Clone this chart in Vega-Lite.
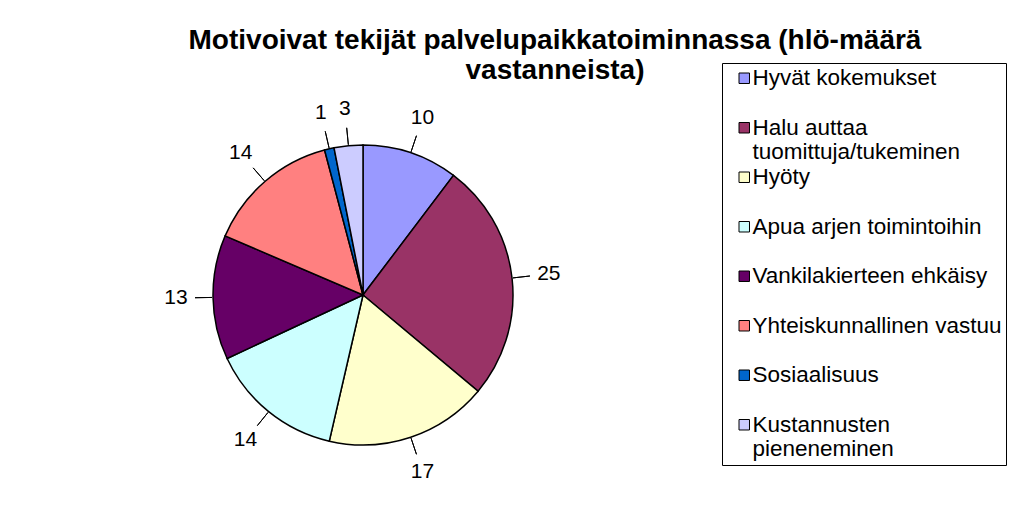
{
  "$schema": "https://vega.github.io/schema/vega-lite/v6.json",
  "width": 726,
  "height": 430,
  "autosize": {"type": "none"},
  "padding": {"left": 0, "top": 80, "right": 298, "bottom": 17},
  "background": "white",
  "title": {
    "text": ["Motivoivat tekijät palvelupaikkatoiminnassa (hlö-määrä", "vastanneista)"],
    "font": "Liberation Sans",
    "fontSize": 28,
    "fontWeight": "bold",
    "color": "black",
    "lineHeight": 30,
    "anchor": "middle",
    "dx": 192,
    "offset": -22
  },
  "data": {
    "values": [
      {"idx": 1, "category": "Hyvät kokemukset", "value": 10},
      {"idx": 2, "category": "Halu auttaa tuomittuja/tukeminen", "value": 25},
      {"idx": 3, "category": "Hyöty", "value": 17},
      {"idx": 4, "category": "Apua arjen toimintoihin", "value": 14},
      {"idx": 5, "category": "Vankilakierteen ehkäisy", "value": 13},
      {"idx": 6, "category": "Yhteiskunnallinen vastuu", "value": 14},
      {"idx": 7, "category": "Sosiaalisuus", "value": 1},
      {"idx": 8, "category": "Kustannusten pieneneminen", "value": 3}
    ]
  },
  "transform": [
    {"window": [{"op": "sum", "field": "value", "as": "cum"}], "sort": [{"field": "idx"}]},
    {"calculate": "datum.cum - datum.value / 2", "as": "mid"}
  ],
  "layer": [
    {
      "mark": {"type": "arc", "outerRadius": 150, "stroke": "black", "strokeWidth": 1.5},
      "encoding": {
        "theta": {"field": "value", "type": "quantitative", "stack": true},
        "order": {"field": "idx", "type": "quantitative"},
        "color": {
          "field": "category",
          "type": "nominal",
          "sort": null,
          "scale": {
            "domain": ["Hyvät kokemukset", "Halu auttaa tuomittuja/tukeminen", "Hyöty", "Apua arjen toimintoihin", "Vankilakierteen ehkäisy", "Yhteiskunnallinen vastuu", "Sosiaalisuus", "Kustannusten pieneneminen"],
            "range": ["#9999FF", "#993366", "#FFFFCC", "#CCFFFF", "#660066", "#FF8080", "#0066CC", "#CCCCFF"]
          },
          "legend": {
            "title": null,
            "orient": "none",
            "legendX": 722,
            "legendY": -17,
            "padding": 4,
            "strokeColor": "black",
            "fillColor": "white",
            "symbolType": "square",
            "symbolSize": 110,
            "symbolOffset": 7,
            "symbolStrokeColor": "black",
            "symbolStrokeWidth": 1,
            "symbolOpacity": 1,
            "labelFont": "Liberation Sans",
            "labelFontSize": 22.5,
            "labelColor": "black",
            "labelBaseline": "top",
            "labelLineHeight": 24,
            "labelLimit": 300,
            "labelOffset": -3,
            "rowPadding": 1.5,
            "labelExpr": "datum.label == 'Halu auttaa tuomittuja/tukeminen' ? ['Halu auttaa', 'tuomittuja/tukeminen'] : datum.label == 'Kustannusten pieneneminen' ? ['Kustannusten', 'pieneneminen'] : [datum.label, '']",
            "encode": {"labels": {"update": {"dy": {"value": -11}}}}
          }
        }
      }
    },
    {
      "mark": {"type": "arc", "stroke": "black", "strokeWidth": 1, "fillOpacity": 0},
      "encoding": {
        "theta": {"field": "mid", "type": "quantitative", "stack": null},
        "theta2": {"field": "mid"},
        "radius": {"value": 168},
        "radius2": {"value": 151}
      }
    },
    {
      "mark": {"type": "text", "font": "Liberation Sans", "fontSize": 21, "color": "black"},
      "encoding": {
        "theta": {"field": "mid", "type": "quantitative", "stack": null},
        "radius": {"value": 187},
        "text": {"field": "value", "type": "quantitative"}
      }
    }
  ],
  "config": {"view": {"stroke": null}}
}
